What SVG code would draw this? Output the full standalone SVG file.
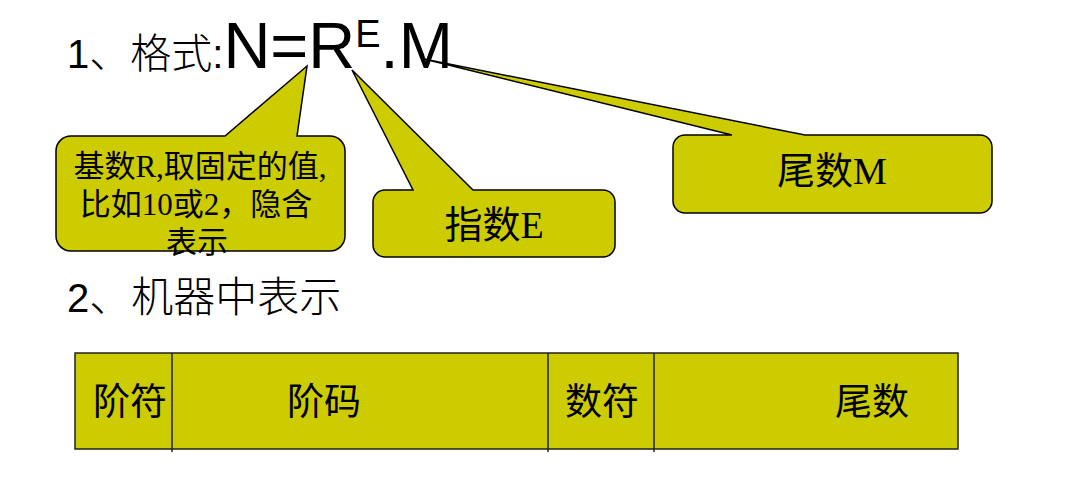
<svg xmlns="http://www.w3.org/2000/svg" width="1072" height="484" viewBox="0 0 1072 484">
<style>
.title{font-family:"Liberation Sans","Noto Sans CJK SC",sans-serif;fill:#000}
.cjk{font-family:"Noto Sans CJK SC",sans-serif;font-weight:300}
.callout{fill:#CCCC00;stroke:#000;stroke-width:1.5;stroke-linejoin:miter}
.ctext{font-family:"Liberation Serif","Noto Sans CJK SC",serif;fill:#000}
.cell{fill:#CCCC00;stroke:#222;stroke-width:1.5}
.div{stroke:#222;stroke-width:1.5}
</style>
<rect width="1072" height="484" fill="#fff"/>
<g id="title1" class="title">
<text x="67" y="68" font-size="40">1<tspan class="cjk" font-size="41">、格式</tspan>:<tspan font-size="65">N=R</tspan><tspan font-size="38" dy="-21">E</tspan><tspan font-size="65" dy="21">.M</tspan></text>
</g>
<g id="title2" class="title">
<text x="67" y="312" font-size="40">2<tspan class="cjk" font-size="42">、机器中表示</tspan></text>
</g>
<g id="callout-base">
<path class="callout" d="M71,136 L225,136 L307,66 L297,136 L330,136 A15,15 0 0 1 345,151 L345,236 A15,15 0 0 1 330,251 L71,251 A15,15 0 0 1 56,236 L56,151 A15,15 0 0 1 71,136 Z"/>
<text class="ctext" font-size="31" text-anchor="middle" x="200" y="177">基数R,取固定的值,</text>
<text class="ctext" font-size="31" text-anchor="middle" x="196" y="215">比如10或2，隐含</text>
<text class="ctext" font-size="31" text-anchor="middle" x="197" y="253">表示</text>
</g>
<g id="callout-exp">
<path class="callout" d="M385,190 L413,190 L352,70 L473,190 L603,190 A12,12 0 0 1 615,202 L615,245 A12,12 0 0 1 603,257 L385,257 A12,12 0 0 1 373,245 L373,202 A12,12 0 0 1 385,190 Z"/>
<text class="ctext" font-size="38" text-anchor="middle" x="494" y="238">指数E</text>
</g>
<g id="callout-mant">
<path class="callout" d="M685,135 L732,135 L424,59 L805,135 L980,135 A12,12 0 0 1 992,147 L992,201 A12,12 0 0 1 980,213 L685,213 A12,12 0 0 1 673,201 L673,147 A12,12 0 0 1 685,135 Z"/>
<text class="ctext" font-size="38" text-anchor="middle" x="832" y="184">尾数M</text>
</g>
<g id="table">
<rect class="cell" x="75" y="353" width="883" height="96"/>
</g>
<g id="connectors">
<line class="div" x1="172" y1="353" x2="172" y2="452"/>
<line class="div" x1="548" y1="353" x2="548" y2="452"/>
<line class="div" x1="654" y1="353" x2="654" y2="452"/>
</g>
<g id="cell-jiefu"><text class="ctext" font-size="37" x="93" y="415">阶符</text></g>
<g id="cell-jiema"><text class="ctext" font-size="37" x="287" y="415">阶码</text></g>
<g id="cell-shufu"><text class="ctext" font-size="37" x="565" y="415">数符</text></g>
<g id="cell-weishu"><text class="ctext" font-size="37" x="835" y="415">尾数</text></g>
</svg>
